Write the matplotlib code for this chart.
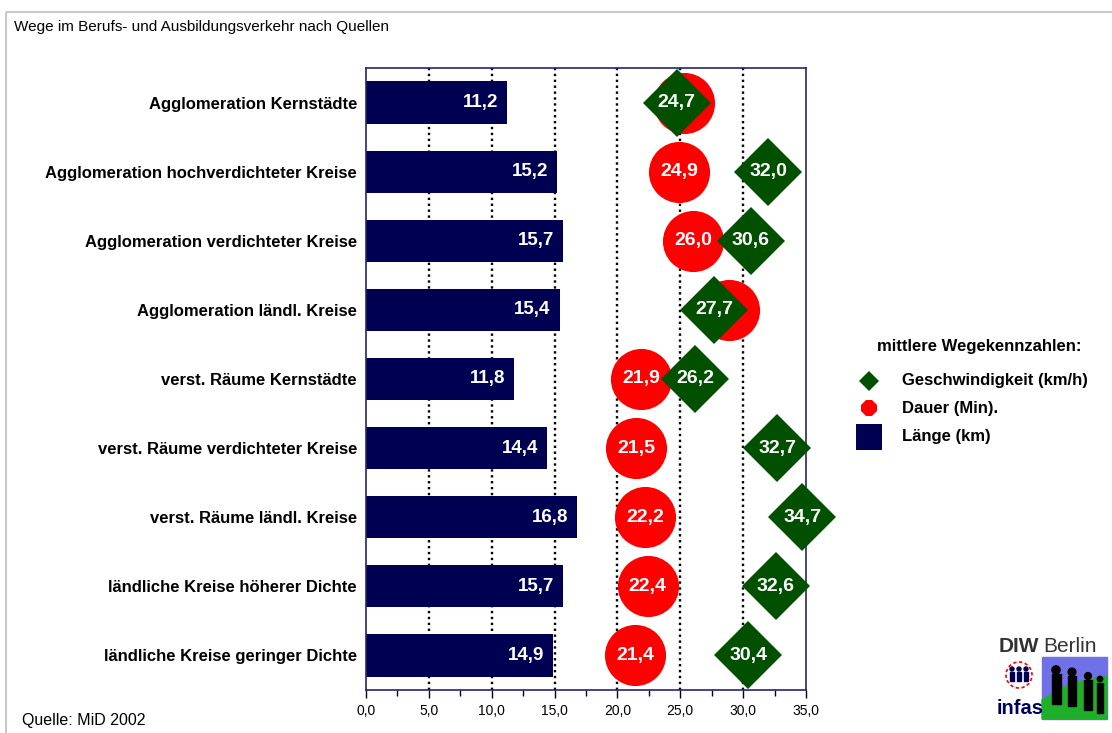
import matplotlib
matplotlib.use("Agg")
import matplotlib.pyplot as plt
import numpy as np
from matplotlib.patches import Rectangle, Circle, Polygon

plt.rcParams['font.family'] = ['Liberation Sans', 'DejaVu Sans']

categories = [
    "Agglomeration Kernstädte",
    "Agglomeration hochverdichteter Kreise",
    "Agglomeration verdichteter Kreise",
    "Agglomeration ländl. Kreise",
    "verst. Räume Kernstädte",
    "verst. Räume verdichteter Kreise",
    "verst. Räume ländl. Kreise",
    "ländliche Kreise höherer Dichte",
    "ländliche Kreise geringer Dichte",
]
laenge = [11.2, 15.2, 15.7, 15.4, 11.8, 14.4, 16.8, 15.7, 14.9]
dauer = [25.3, 24.9, 26.0, 28.9, 21.9, 21.5, 22.2, 22.4, 21.4]
geschw = [24.7, 32.0, 30.6, 27.7, 26.2, 32.7, 34.7, 32.6, 30.4]
xticks = [0, 5, 10, 15, 20, 25, 30, 35]

NAVY = "#000052"
GREEN = "#005000"
RED = "#ff0000"
SPINE = "#25256e"

def fmt(v):
    return f"{v:.1f}".replace(".", ",")

W, H = 1112, 733
fig = plt.figure(figsize=(W / 100, H / 100), dpi=100)

# outer frame
frame = fig.add_axes([0, 0, 1, 1], zorder=-5)
frame.set_xlim(0, W)
frame.set_ylim(H, 0)
frame.axis("off")
frame.add_patch(Rectangle((6, 12), W + 10, H, fill=False, edgecolor="#c8c8c8", lw=1.5))

ax = fig.add_axes([366 / W, 1 - 690 / H, 440 / W, 622 / H])
y = np.arange(len(categories))

ax.barh(y, laenge, height=0.61, color=NAVY, zorder=2)
for yi, v in zip(y, laenge):
    ax.annotate(fmt(v), (v, yi), xytext=(-6.5, 0), textcoords="offset points",
                ha="right", va="center", color="white", fontsize=13.5,
                fontweight="bold", zorder=3)

ax.plot(dauer, y, linestyle="none", marker="o", markersize=44, color=RED,
        markeredgewidth=0, zorder=4, clip_on=False)
for yi, v, g in zip(y, dauer, geschw):
    if abs(v - g) < 3:   # label hidden behind the diamond in the original
        continue
    ax.text(v, yi, fmt(v), ha="center", va="center", color="white",
            fontsize=14, fontweight="bold", zorder=5)

ax.plot(geschw, y, linestyle="none", marker="D", markersize=34.5, color=GREEN,
        markeredgewidth=0, zorder=6, clip_on=False)
for yi, v in zip(y, geschw):
    ax.text(v, yi, fmt(v), ha="center", va="center", color="white",
            fontsize=14, fontweight="bold", zorder=7, clip_on=False)

ax.set_xlim(0, 35)
ax.set_ylim(len(categories) - 0.5, -0.5)
ax.set_xticks(xticks)
ax.set_xticklabels([fmt(t) for t in xticks], fontsize=10)
ax.set_xticks(np.arange(2.5, 35, 5), minor=True)
ax.tick_params(axis="x", which="major", length=6, width=1, color="black", pad=4)
ax.tick_params(axis="x", which="minor", length=4, width=1, color="black")
ax.set_yticks(y)
ax.set_yticklabels(categories, fontsize=12, fontweight="bold")
ax.tick_params(axis="y", length=0, pad=6.5)

for t in xticks[1:-1]:
    ax.axvline(t, color="black", linestyle=(0, (1, 1.5)), lw=1.7, zorder=1)

for s in ax.spines.values():
    s.set_color(SPINE)
    s.set_linewidth(1.2)
    s.set_zorder(3.5)

# overlay for annotations
ov = fig.add_axes([0, 0, 1, 1], zorder=10)
ov.set_xlim(0, W)
ov.set_ylim(H, 0)
ov.axis("off")

ov.text(14, 27, "Wege im Berufs- und Ausbildungsverkehr nach Quellen",
        fontsize=11, va="center", ha="left")
ov.text(22, 720, "Quelle: MiD 2002", fontsize=11.5, va="center", ha="left")

# legend
ov.text(877, 347, "mittlere Wegekennzahlen:", fontsize=12, fontweight="bold",
        va="center", ha="left")
leg_items = [
    ("Geschwindigkeit (km/h)", "D", GREEN, 10.5, 381),
    ("Dauer (Min).", "8", RED, 12, 408),
    ("Länge (km)", "s", NAVY, 18.5, 437),
]
for lab, mk, col, ms, yy in leg_items:
    ov.plot([869], [yy], marker=mk, color=col, markersize=ms,
            markeredgewidth=0, linestyle="none")
    ov.text(902, yy, lab, fontsize=12, fontweight="bold", va="center", ha="left")

# logo approximation
ov.text(999, 646, "DIW", fontsize=15, fontweight="bold", color="#333333",
        va="center", ha="left")
ov.text(1043, 646, "Berlin", fontsize=15, color="#333333", va="center", ha="left")
ov.add_patch(Circle((1019, 675), 13, fill=False, edgecolor="red", lw=1.2,
                    linestyle=(0, (2, 1.5))))
for xp in (1012, 1019, 1026):
    ov.add_patch(Rectangle((xp - 2, 672), 4, 9, color=NAVY))
    ov.add_patch(Circle((xp, 669), 2, color=NAVY))
ov.text(997, 708, "infas", fontsize=14.5, fontweight="bold", color="#00005a",
        va="center", ha="left", fontstretch="condensed")
ov.add_patch(Rectangle((1042, 657), 65, 62, color="#7070e8"))
ov.add_patch(Polygon([(1042, 719), (1042, 700), (1070, 684), (1107, 676),
                      (1107, 719)], closed=True, color="#1fb02a"))
for xp, yp, s in [(1056, 688, 9), (1072, 690, 8.5), (1088, 694, 7.5), (1100, 697, 6)]:
    ov.add_patch(Rectangle((xp - s / 2, yp - 14), s, 30, color="black"))
    ov.add_patch(Circle((xp, yp - 18), s / 2.2, color="black"))

fig.savefig("out.png", dpi=100)
